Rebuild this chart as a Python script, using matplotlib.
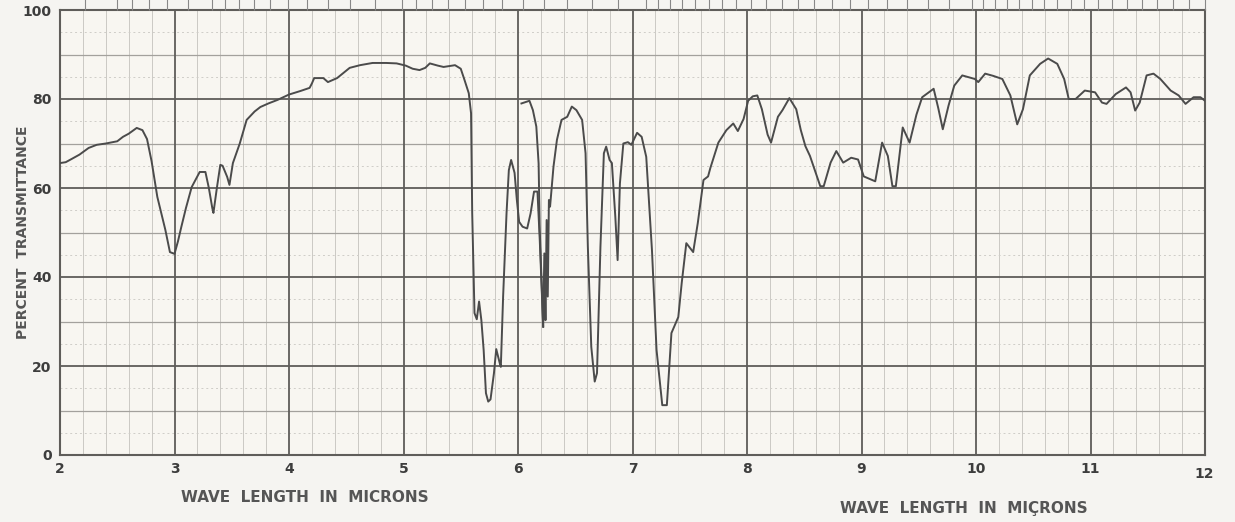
import matplotlib
matplotlib.use("Agg")
import matplotlib.pyplot as plt
import matplotlib.transforms as mtransforms
import numpy as np

plt.rcParams['font.family'] = ['DejaVu Sans']

# trace 1 (pen down from 2 microns until it runs into the 6.2 band)
wl_a = [2.00, 2.05, 2.10, 2.17, 2.25, 2.32, 2.40, 2.50, 2.55, 2.60, 2.67, 2.72,
        2.76, 2.80, 2.85, 2.92, 2.96, 3.00, 3.03, 3.06, 3.10, 3.15, 3.22, 3.27,
        3.30, 3.33, 3.34, 3.37, 3.40, 3.42, 3.46, 3.48, 3.51, 3.57, 3.63, 3.70,
        3.75, 3.82, 3.90, 4.00, 4.10, 4.18, 4.20, 4.22, 4.30, 4.34, 4.42, 4.53,
        4.62, 4.73, 4.85, 4.94, 5.02, 5.08, 5.14, 5.19, 5.23, 5.30, 5.35, 5.45,
        5.50, 5.53, 5.57, 5.59, 5.60, 5.62, 5.64, 5.66, 5.68, 5.70, 5.72, 5.74,
        5.76, 5.79, 5.81, 5.84, 5.85, 5.87, 5.90, 5.92, 5.94, 5.97, 5.99, 6.01,
        6.04, 6.08, 6.11, 6.14, 6.17, 6.19, 6.22]
tr_a = [65.6, 65.8, 66.5, 67.5, 69.0, 69.7, 70.0, 70.5, 71.5, 72.2, 73.5, 73.0,
        71.0, 66.0, 58.0, 50.6, 45.6, 45.2, 48.0, 51.3, 55.5, 60.2, 63.6, 63.6,
        60.0, 55.5, 54.4, 60.0, 65.2, 65.0, 62.5, 60.7, 65.6, 70.0, 75.3, 77.2,
        78.2, 79.0, 79.8, 81.0, 81.8, 82.5, 83.5, 84.7, 84.7, 83.8, 84.7, 87.0,
        87.6, 88.1, 88.1, 88.0, 87.5, 86.8, 86.5, 87.0, 88.0, 87.5, 87.2, 87.6,
        86.8, 84.5, 81.3, 76.8, 54.4, 31.9, 30.5, 34.5, 30.3, 23.6, 13.9, 12.0,
        12.5, 18.4, 23.8, 20.7, 19.8, 35.6, 54.4, 64.0, 66.3, 63.4, 57.3, 52.4,
        51.3, 50.9, 54.3, 59.2, 59.2, 48.3, 28.8]

# trace 2 (restarted at 6.03 and run to 12 microns)
wl_b = [6.03, 6.10, 6.13, 6.16, 6.18, 6.19, 6.22, 6.23, 6.24, 6.25, 6.26, 6.27,
        6.28, 6.31, 6.34, 6.38, 6.43, 6.47, 6.51, 6.56, 6.59, 6.61, 6.64, 6.67,
        6.69, 6.72, 6.75, 6.77, 6.80, 6.82, 6.85, 6.87, 6.89, 6.92, 6.96, 6.99,
        7.04, 7.08, 7.12, 7.17, 7.21, 7.26, 7.30, 7.34, 7.40, 7.43, 7.47, 7.53,
        7.57, 7.62, 7.66, 7.68, 7.75, 7.82, 7.88, 7.92, 7.97, 8.01, 8.05, 8.09,
        8.13, 8.18, 8.21, 8.27, 8.31, 8.37, 8.43, 8.47, 8.51, 8.55, 8.64, 8.67,
        8.73, 8.78, 8.84, 8.91, 8.97, 9.02, 9.12, 9.18, 9.23, 9.27, 9.30, 9.36,
        9.42, 9.48, 9.53, 9.63, 9.67, 9.71, 9.76, 9.81, 9.88, 9.99, 10.02, 10.08,
        10.15, 10.23, 10.30, 10.36, 10.41, 10.47, 10.56, 10.63, 10.71, 10.77,
        10.81, 10.87, 10.95, 11.04, 11.10, 11.14, 11.22, 11.31, 11.35, 11.39,
        11.43, 11.49, 11.55, 11.61, 11.70, 11.77, 11.83, 11.90, 11.96, 12.00]
tr_b = [79.0, 79.6, 77.5, 73.8, 65.5, 50.6, 28.8, 45.3, 30.3, 52.8, 35.6, 57.3,
        55.8, 64.8, 70.8, 75.3, 76.0, 78.3, 77.5, 75.3, 67.8, 46.8, 24.3, 16.5,
        18.4, 46.8, 67.8, 69.3, 66.3, 65.6, 53.5, 43.8, 61.0, 70.0, 70.3, 69.7,
        72.4, 71.5, 67.0, 46.0, 23.6, 11.2, 11.2, 27.4, 31.0, 38.7, 47.6, 45.6,
        52.1, 61.8, 62.6, 64.5, 70.2, 73.0, 74.5, 72.8, 75.5, 79.6, 80.6, 80.8,
        77.7, 72.0, 70.2, 76.0, 77.5, 80.2, 77.7, 73.0, 69.4, 67.2, 60.4, 60.4,
        65.7, 68.3, 65.7, 66.8, 66.4, 62.6, 61.5, 70.2, 67.2, 60.4, 60.4, 73.6,
        70.2, 76.5, 80.4, 82.3, 78.0, 73.2, 78.5, 83.0, 85.3, 84.5, 83.8, 85.7,
        85.2, 84.5, 80.8, 74.3, 77.7, 85.3, 87.9, 89.1, 87.9, 84.5,
        80.0, 80.0, 81.9, 81.5, 79.2, 78.9, 81.1, 82.6, 81.5, 77.4,
        79.2, 85.3, 85.7, 84.5, 81.9, 80.8, 78.9, 80.4, 80.4, 79.6]

x_ticks = [2, 3, 4, 5, 6, 7, 8, 9, 10, 11, 12]
y_ticks = [0, 20, 40, 60, 80, 100]

# wavenumber (cm-1) marks printed along the top edge of the chart paper
wn_marks = [4500, 4000] + list(range(3800, 3000, -200)) \
    + list(range(3000, 2000, -100)) + list(range(2000, 1400, -50)) \
    + list(range(1400, 1000, -20)) + list(range(1000, 820, -10))

paper = '#f8f6f1'
ink = '#4b4b4b'

fig = plt.figure(figsize=(12.35, 5.22), dpi=100, facecolor='#f5f4f1')
ax = fig.add_axes([60/1235, 1-455/522, 1145/1235, 445/522])
ax.set_facecolor(paper)

# chart paper grid
for xv in np.arange(2.2, 12, 0.2):
    if abs(xv - round(xv)) > 0.01:
        ax.axvline(xv, color='#cbc9c4', lw=0.7, zorder=1)
for yv in range(5, 100, 10):
    ax.axhline(yv, color='#cfcdc8', lw=0.7, ls=(0, (2, 3)), zorder=1)
for yv in range(10, 100, 20):
    ax.axhline(yv, color='#a3a19d', lw=0.9, zorder=1)
for yv in y_ticks[1:-1]:
    ax.axhline(yv, color='#5f5d5a', lw=1.3, zorder=2)
for xv in x_ticks[1:-1]:
    ax.axvline(xv, color='#5f5d5a', lw=1.3, zorder=2)

ax.plot(wl_a, tr_a, color=ink, lw=1.4, zorder=3, solid_joinstyle='round')
ax.plot(wl_b, tr_b, color=ink, lw=1.4, zorder=3, solid_joinstyle='round')

ax.set_xlim(2, 12)
ax.set_ylim(0, 100)
for s in ax.spines.values():
    s.set_color('#5f5d5a')
    s.set_linewidth(1.5)

ax.set_xticks(x_ticks)
ax.set_xticklabels([str(v) for v in x_ticks])
ax.set_yticks(y_ticks)
ax.set_yticklabels([str(v) for v in y_ticks])
ax.tick_params(axis='x', length=0, pad=5, labelsize=10, labelcolor='#3d3d3d')
ax.tick_params(axis='y', length=0, pad=6, labelsize=10, labelcolor='#3d3d3d')
for lbl in ax.get_xticklabels() + ax.get_yticklabels():
    lbl.set_fontweight('bold')
last = ax.get_xticklabels()[-1]
last.set_transform(last.get_transform() +
                   mtransforms.ScaledTranslation(-0.01, -0.05, fig.dpi_scale_trans))

# top wavenumber marks, running off the top of the sheet
top = ax.twiny()
top.set_xlim(2, 12)
top.set_xticks([1e4 / w for w in wn_marks])
top.set_xticklabels([])
top.tick_params(axis='x', direction='out', length=9, width=0.8, color='#888888')
for s in top.spines.values():
    s.set_visible(False)

ax.set_ylabel('PERCENT  TRANSMITTANCE', fontsize=10, fontweight='bold',
              color='#555555')
ax.yaxis.set_label_coords(-30/1145, 0.5)

fig.text(305/1235, 1-498/522, 'WAVE  LENGTH  IN  MICRONS', ha='center', va='center',
         fontsize=11, fontweight='bold', color='#555555')
fig.text(964/1235, 1-508/522, 'WAVE  LENGTH  IN  MIÇRONS', ha='center', va='center',
         fontsize=11, fontweight='bold', color='#555555')

fig.savefig('out.png', dpi=100, facecolor=fig.get_facecolor())
